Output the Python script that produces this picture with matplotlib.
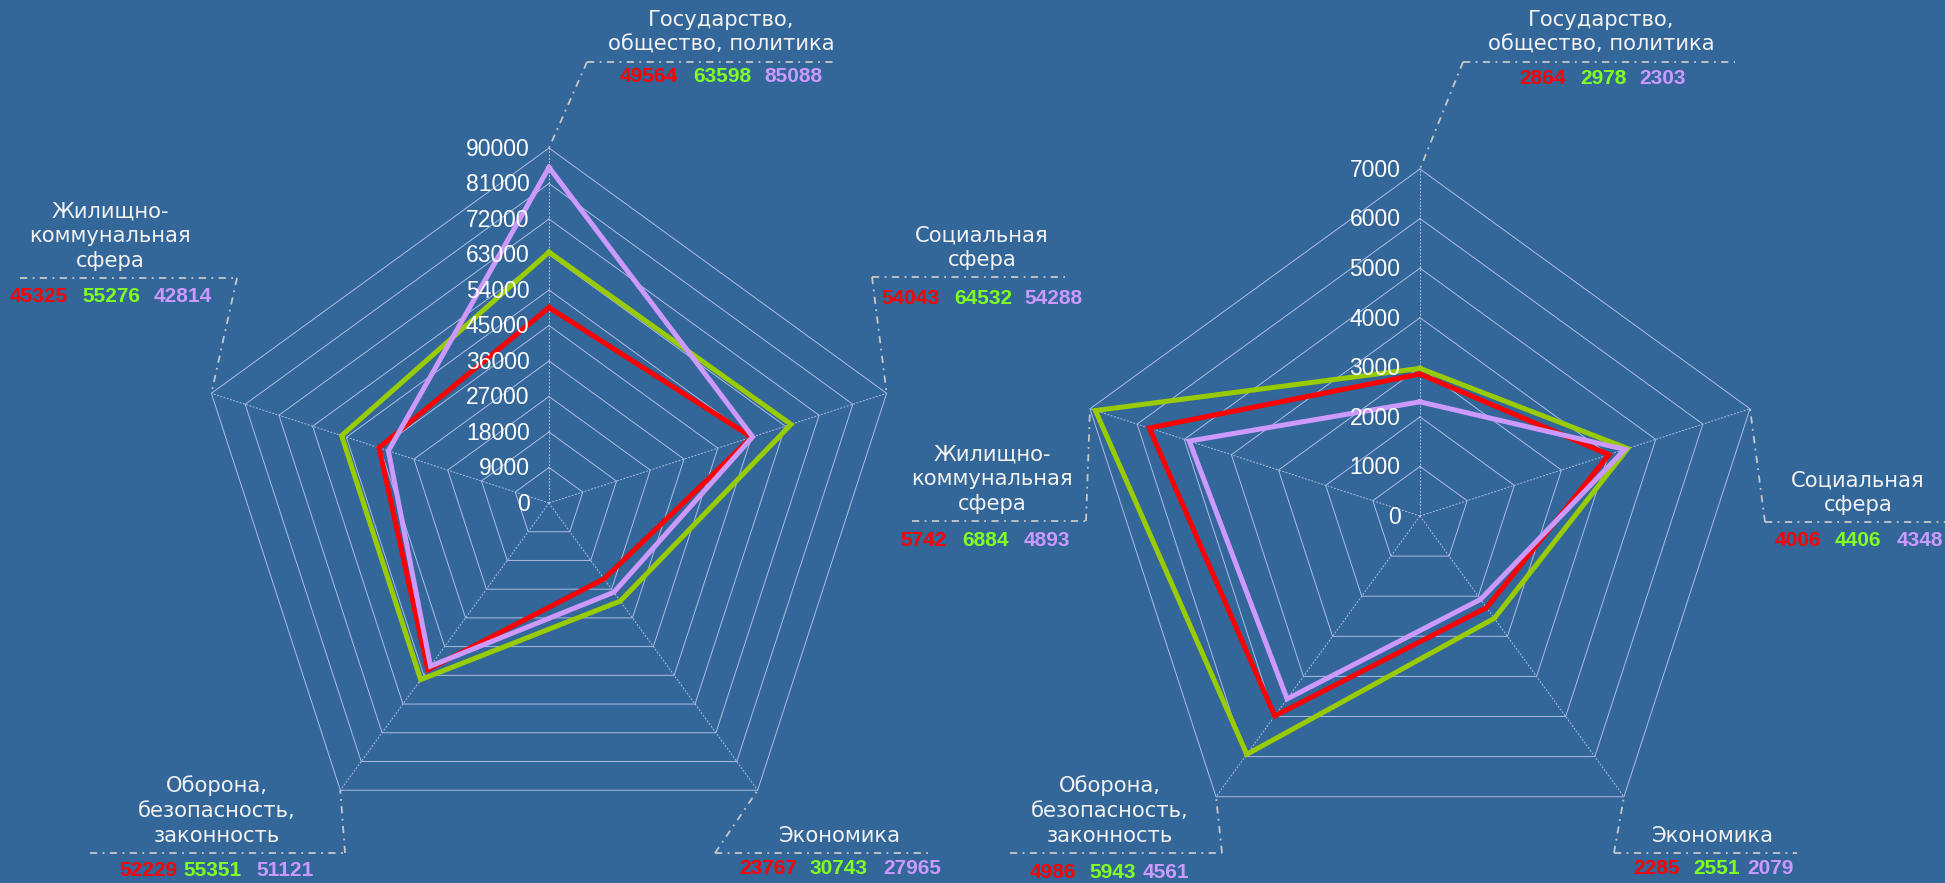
import numpy as np
import matplotlib
matplotlib.use("Agg")
import matplotlib.pyplot as plt

# categories, clockwise from the top
cats = ['Государство,\nобщество, политика', 'Социальная\nсфера', 'Экономика',
        'Оборона,\nбезопасность,\nзаконность', 'Жилищно-\nкоммунальная\nсфера']

left_red = [49564, 54043, 23767, 52229, 45325]
left_green = [63598, 64532, 30743, 55351, 55276]
left_purple = [85088, 54288, 27965, 51121, 42814]
left_ticks = list(range(0, 90001, 9000))

right_red = [2864, 4006, 2285, 4986, 5742]
right_green = [2978, 4406, 2551, 5943, 6884]
right_purple = [2303, 4348, 2079, 4561, 4893]
right_ticks = list(range(0, 7001, 1000))

bg = '#336699'
grid_c = '#aebde3'
line_cols = ['#ff0000', '#99cc00', '#cc99ff']
val_cols = ['#ff0000', '#80ff20', '#cc99ff']
lead_c = '#c8c8c8'

W, H = 1945, 883
fig = plt.figure(figsize=(W / 100, H / 100), dpi=100, facecolor=bg)

over = fig.add_axes([0, 0, 1, 1])
over.set_xlim(0, W)
over.set_ylim(H, 0)
over.axis('off')

theta = np.linspace(0, 2 * np.pi, len(cats), endpoint=False)


def radar(cx, cy, R, ticks, series, layout):
    ax = fig.add_axes([(cx - R) / W, (H - cy - R) / H, 2 * R / W, 2 * R / H], projection='polar')
    ax.set_theta_offset(np.pi / 2)
    ax.set_theta_direction(-1)
    ax.set_ylim(0, ticks[-1])
    ax.axis('off')
    ax.patch.set_alpha(0)
    th = np.append(theta, theta[0])
    for t in ticks[1:]:
        ax.plot(th, [t] * len(th), color=grid_c, lw=0.7, clip_on=False)
    for a in theta:
        ax.plot([a, a], [0, ticks[-1]], color=grid_c, lw=0.7, ls=(0, (2, 1.5)), clip_on=False)
    for vals, c in zip(series, line_cols):
        ax.plot(th, vals + [vals[0]], color=c, lw=3.6, clip_on=False, solid_joinstyle='miter')
    for t in ticks:
        ax.annotate(str(t), (0, t), xytext=(-14, -1), textcoords='offset points',
                    ha='right', va='center', color='white', fontsize=16.5,
                    family='Liberation Sans')
    inv = over.transData.inverted()
    for i, (tx, ly, x0, x1, vy, vxs, lx) in enumerate(layout):
        over.text(tx, ly - 7, cats[i], ha='center', va='bottom', color='#f2f2f2',
                  fontsize=15.2, family='DejaVu Sans', linespacing=1.3)
        vx, vyy = inv.transform(ax.transData.transform((theta[i], ticks[-1])))
        over.plot([x0, x1], [ly, ly], color=lead_c, lw=1.3, ls=(0, (4, 3, 1, 3)))
        over.plot([lx, vx], [ly, vyy], color=lead_c, lw=1.3, ls=(0, (4, 3, 1, 3)))
        for j in range(3):
            over.text(vxs[j], vy, str(series[j][i]), ha='center', va='center',
                      color=val_cols[j], fontsize=15, fontweight='bold',
                      family='Liberation Sans')


# label layout: text x, dash-line y, line x0, x1, values y, values x, leader start x
left_layout = [
    (721, 62, 587, 837, 77, [649, 722, 793], 587),
    (982, 277, 872, 1065, 298, [910, 983, 1053], 872),
    (840, 853, 715, 928, 868, [768, 839, 912], 715),
    (217, 853, 90, 345, 870, [148, 213, 285], 345),
    (110, 278, 20, 237, 296, [39, 111, 183], 237),
]
right_layout = [
    (1601, 62, 1463, 1735, 78, [1543, 1603, 1663], 1463),
    (1858, 522, 1765, 1945, 540, [1798, 1858, 1920], 1765),
    (1713, 853, 1614, 1797, 868, [1657, 1717, 1770], 1614),
    (1110, 853, 1010, 1222, 872, [1053, 1113, 1166], 1222),
    (992, 521, 912, 1086, 540, [924, 986, 1047], 1086),
]

radar(549, 503, 355, left_ticks, [left_red, left_green, left_purple], left_layout)
radar(1420, 516, 347, right_ticks, [right_red, right_green, right_purple], right_layout)

fig.savefig('out.png', dpi=100, facecolor=bg)
